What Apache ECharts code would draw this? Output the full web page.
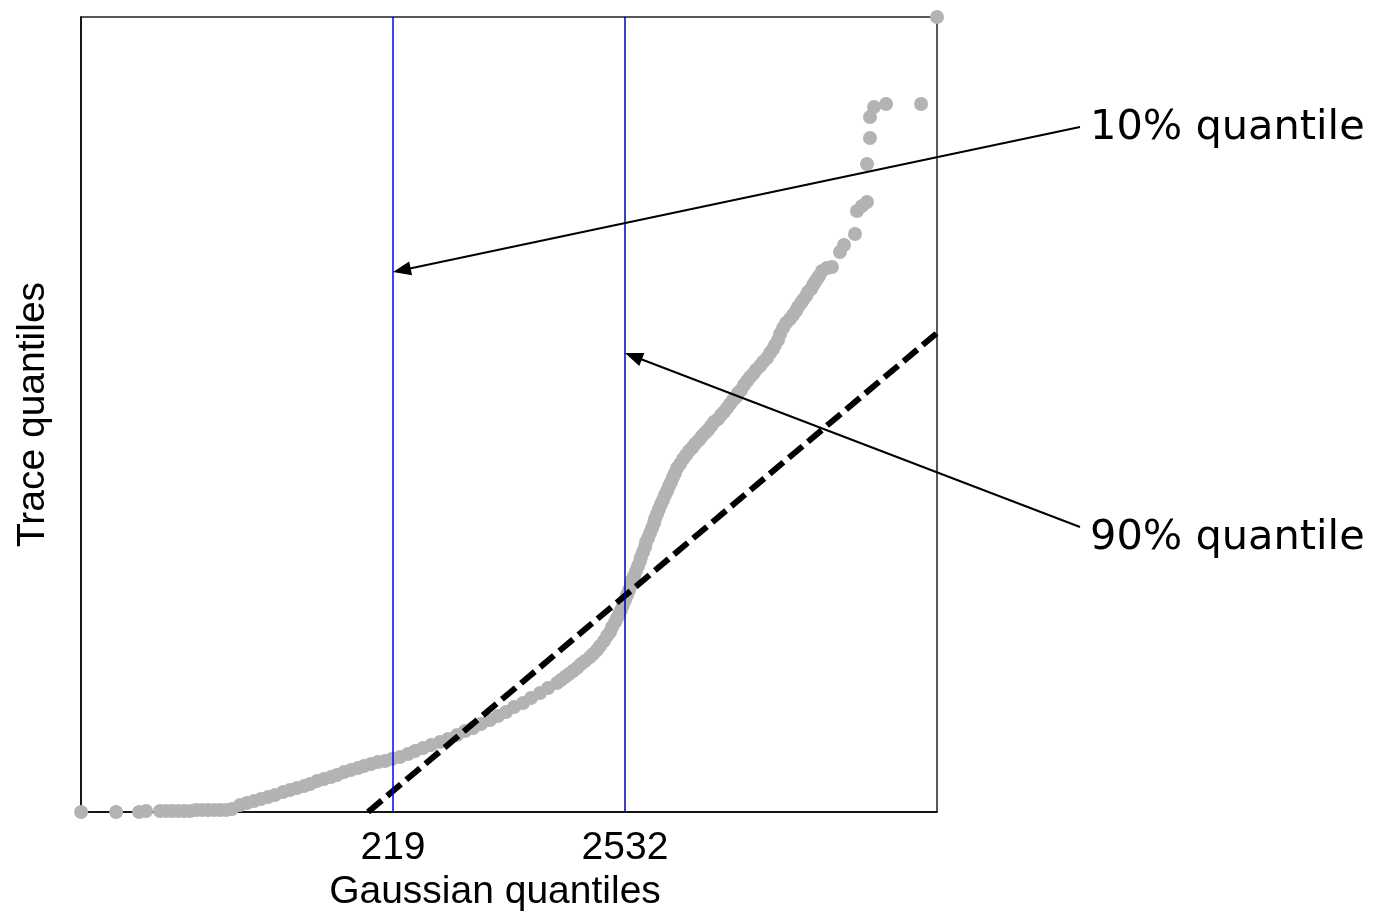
<!DOCTYPE html>
<html><head><meta charset="utf-8">
<script src="https://cdn.jsdelivr.net/npm/echarts@6/dist/echarts.min.js"></script>
<style>html,body{margin:0;padding:0;background:#fff}#c{width:1380px;height:923px}</style>
</head><body><div id="c"></div>
<script>
// Gaussian quantiles (x) and trace quantiles (y) of the QQ plot
const gaussQ = [-2891,-2542,-2313,-2243,-2104,-2044,-1984,-1924,-1864,-1805,-1745,-1685,-1625,-1565,-1505,-1446,-1386,-1306,-1236,-1166,-1097,-1027,-957,-877,-808,-738,-668,-608,-538,-469,-399,-339,-269,-199,-130,-70,0,70,140,209,289,369,439,518,598,688,768,857,937,1017,1097,1186,1266,1346,1426,1515,1595,1685,1765,1854,1894,1934,1974,2014,2054,2094,2134,2183,2213,2253,2283,2323,2353,2383,2403,2433,2453,2473,2493,2512,2532,2552,2572,2592,2602,2622,2642,2662,2682,2692,2712,2732,2742,2762,2782,2802,2822,2831,2851,2871,2891,2911,2931,2951,2971,2991,3011,3031,3051,3081,3111,3141,3170,3200,3230,3270,3300,3330,3360,3390,3420,3460,3490,3519,3549,3579,3609,3639,3659,3689,3719,3749,3779,3809,3838,3878,3908,3948,3978,4008,4028,4058,4078,4108,4138,4177,4207,4237,4257,4287,4307,4337,4357,4387,4407,4427,4447,4467,4496,4546,4596,4676,4716,4825,4845,4895,4945,4945,4975,4975,5015,5135,5484,5643];
const traceQ = [0,0,0,10,10,10,10,10,10,10,20,20,20,20,20,20,30,70,90,110,130,150,170,200,220,240,260,280,310,330,350,370,400,420,440,460,480,500,510,530,550,580,610,640,670,700,730,770,810,840,880,920,960,1000,1050,1090,1140,1190,1240,1290,1320,1350,1380,1410,1440,1480,1510,1550,1580,1620,1660,1710,1760,1800,1850,1900,1940,1980,2020,2070,2120,2170,2220,2270,2320,2360,2410,2460,2510,2550,2600,2650,2700,2740,2790,2840,2890,2930,2980,3030,3080,3120,3170,3210,3260,3300,3350,3390,3440,3480,3530,3570,3610,3640,3680,3720,3760,3790,3820,3860,3900,3930,3970,4000,4040,4080,4120,4150,4190,4220,4270,4310,4350,4380,4420,4460,4500,4540,4590,4630,4670,4720,4780,4840,4890,4930,4970,5010,5050,5090,5120,5160,5200,5230,5270,5300,5330,5360,5410,5440,5450,5600,5670,5780,6010,6060,6100,6480,6740,6950,7050,7080,7080,7950];
const xTickValues = [219, 2532];
const quantileMarks = [219, 2532];
const quantileColors = ['#0000ff', '#0000b0'];
const refLineX = [-30, 5643];
const refLineY = [0, 4790];
const annotLabels = ['10% quantile', '90% quantile'];
const arrowTipY = [5400, 4590];
const xRange = [-2892, 5643];
const yRange = [0, 7950];

const chart = echarts.init(document.getElementById('c'));
const sansA = '"Liberation Sans", Arial, sans-serif';
const sansV = 'Verdana, "DejaVu Sans", sans-serif';

const quantileSeries = quantileMarks.map((v, i) => ({
  type: 'line', z: 4, symbol: 'none', silent: true, data: [],
  markLine: {
    silent: true, symbol: ['none', 'none'], label: { show: false }, animation: false,
    lineStyle: { color: quantileColors[i], width: 1.5, type: 'solid', opacity: 1 },
    emphasis: { disabled: true },
    data: [{ xAxis: v }]
  }
}));

chart.setOption({
  animation: false,
  backgroundColor: '#fff',
  grid: { left: 81, top: 17, right: 443, bottom: 111, show: true, borderColor: '#222', borderWidth: 1.5, outerBoundsMode: 'none' },
  xAxis: {
    type: 'value', min: xRange[0], max: xRange[1],
    axisLine: { show: true, onZero: false, lineStyle: { color: '#000', width: 1.5 } },
    axisTick: { show: false },
    splitLine: { show: false },
    axisLabel: { customValues: xTickValues, formatter: v => String(v), color: '#000', fontFamily: sansA, fontSize: 39, margin: 17 },
    name: 'Gaussian quantiles', nameLocation: 'middle', nameGap: 60,
    nameTextStyle: { color: '#000', fontFamily: sansA, fontSize: 39, padding: [0, 28, 0, 0] }
  },
  yAxis: {
    type: 'value', min: yRange[0], max: yRange[1],
    axisLine: { show: true, onZero: false, lineStyle: { color: '#000', width: 1.5 } },
    axisTick: { show: false }, axisLabel: { show: false }, splitLine: { show: false },
    name: 'Trace quantiles', nameLocation: 'middle', nameGap: 28,
    nameTextStyle: { color: '#000', fontFamily: sansA, fontSize: 39 }
  },
  series: [
    {
      type: 'scatter', z: 2, clip: false, symbolSize: 14,
      itemStyle: { color: '#b3b3b3', opacity: 1 },
      data: gaussQ.map((x, i) => [x, traceQ[i]]),
      silent: true
    },
    {
      type: 'line', z: 3, clip: false, symbol: 'none', silent: true,
      data: refLineX.map((x, i) => [x, refLineY[i]]),
      lineStyle: { color: '#000', width: 6, type: [18, 7] }
    }
  ].concat(quantileSeries)
});

// annotations with arrows pointing at the quantile lines
const labelPos = [[1090, 128], [1090, 538]];
const graphics = [];
annotLabels.forEach((t, i) => {
  const tip = chart.convertToPixel({ gridIndex: 0 }, [quantileMarks[i], arrowTipY[i]]);
  const tail = [labelPos[i][0] - 10, labelPos[i][1] - (i === 1 ? 11 : 1)];
  const dx = tip[0] - tail[0], dy = tip[1] - tail[1];
  const len = Math.sqrt(dx * dx + dy * dy);
  const ux = dx / len, uy = dy / len, nx = -uy, ny = ux;
  const L = 18, W = 7;
  const bx = tip[0] - L * ux, by = tip[1] - L * uy;
  graphics.push({
    type: 'line', z: 10, silent: true,
    shape: { x1: tail[0], y1: tail[1], x2: bx + 2 * ux, y2: by + 2 * uy },
    style: { stroke: '#000', lineWidth: 2 }
  });
  graphics.push({
    type: 'polygon', z: 10, silent: true,
    shape: { points: [[tip[0], tip[1]], [bx + W * nx, by + W * ny], [bx - W * nx, by - W * ny]] },
    style: { fill: '#000' }
  });
  graphics.push({
    type: 'text', z: 10, silent: true, x: labelPos[i][0], y: labelPos[i][1],
    style: { text: t, fill: '#000', font: '41.5px ' + sansV, verticalAlign: 'middle', align: 'left' }
  });
});
chart.setOption({ graphic: graphics });
</script>
</body></html>
